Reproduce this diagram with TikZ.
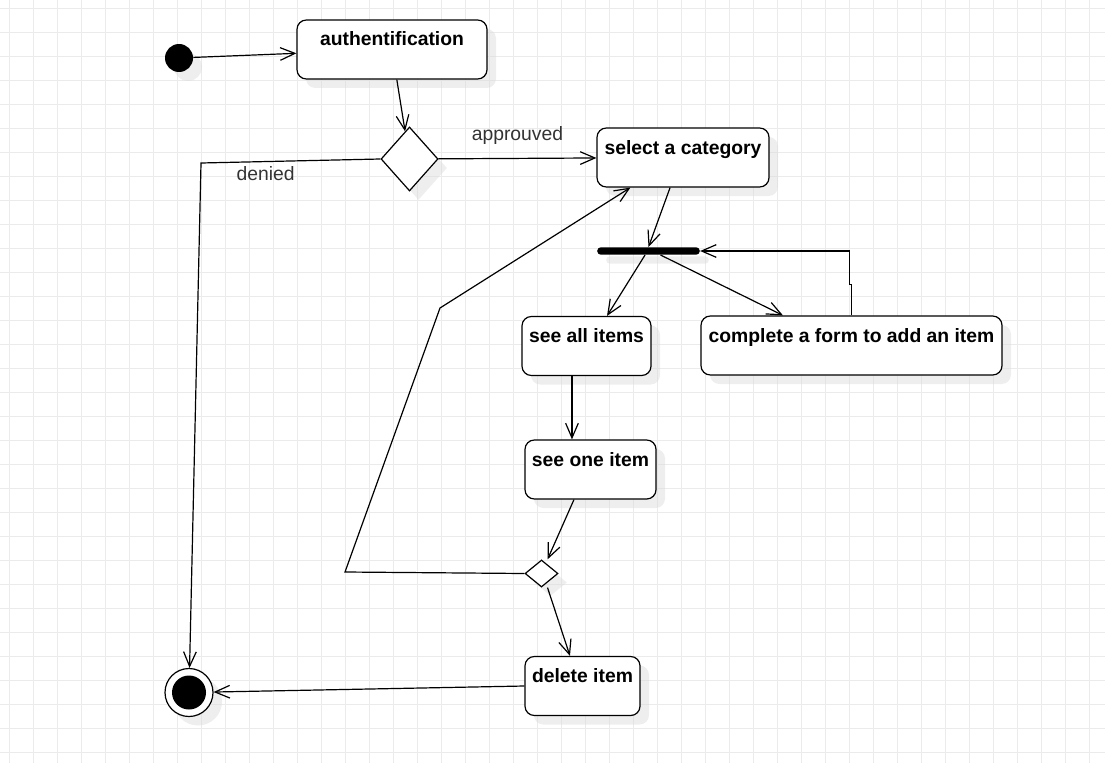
\documentclass[tikz,border=0pt]{standalone}
\usepackage{fontspec}
\setmainfont{Liberation Sans}
\usepackage{tikz}
\usetikzlibrary{shapes.geometric,arrows.meta,shadows}

\begin{document}
\begin{tikzpicture}[x=0.75pt, y=-0.75pt,
			gridline/.style={draw=black!8, line width=0.6pt},
			shade/.style={drop shadow={shadow xshift=6.75pt, shadow yshift=-6.75pt, fill=black!14, opacity=0.45}},
			block/.style={
					rectangle,
					draw,
					fill=white,
					shade,
					line width=0.9pt,
					rounded corners=7pt,
					minimum height=44.25pt,
					inner xsep=2pt,
					inner ysep=0pt,
					text height=19.5pt, % text sits at the top
					text depth=24.75pt,
					font=\bfseries\fontsize{14.5}{17}\selectfont
				},
			initial/.style={circle, fill=black, minimum size=21pt, inner sep=0pt, shade},
			final/.style={circle, draw, fill=white, line width=0.9pt, minimum size=36pt, inner sep=0pt, shade,
					path picture={\fill[black] (path picture bounding box.center) circle (12.75pt);}},
			decision/.style={diamond, draw, fill=white, line width=0.9pt, inner sep=0pt, shade},
			forkbar/.style={rectangle, fill=black, rounded corners=2.8pt, minimum width=77pt, minimum height=5.6pt, inner sep=0pt, shade},
			guard/.style={font=\fontsize{14.5}{17}\selectfont, text=black!80, inner sep=1pt},
			line/.style={draw, line width=0.9pt, -{Straight Barb[length=11pt, width=9.5pt]}}
		]
		% Background and grid
		\fill[white] (0,0) rectangle (1105,763);
		\useasboundingbox (0,0) rectangle (1105,763);
		\foreach \gx in {9,33,...,1105} \draw[gridline] (\gx,0) -- (\gx,763);
		\foreach \gy in {8,32,...,763} \draw[gridline] (0,\gy) -- (1105,\gy);
		% Place nodes
		\node [initial] (start) at (179,58) {};
		\node [block, minimum width=142.5pt] (auth) at (392,49.5) {authentification};
		\node [decision, minimum width=42.75pt, minimum height=48pt] (dec1) at (409.5,159) {};
		\node [block, minimum width=129pt] (select) at (683,157.5) {select a category};
		\node [forkbar] (bar) at (648.5,251) {};
		\node [block, minimum width=96.75pt] (seeall) at (586.5,346) {see all items};
		\node [block, minimum width=225.75pt] (form) at (851.5,345.5) {complete a form to add an item};
		\node [block, minimum width=98.25pt] (seeone) at (590.5,469.5) {see one item};
		\node [decision, minimum width=24.75pt, minimum height=20.25pt] (dec2) at (541.5,573.5) {};
		\node [block, minimum width=86.25pt] (delete) at (582.5,686) {delete item};
		\node [final] (end) at (189,692.5) {};
		\coordinate (deniedbend) at (201,163);
		\coordinate (loopa) at (345,572);
		\coordinate (loopb) at (440,308);
		% Draw edges
		\path [line] (start) -- (auth);
		\path [line] (auth) -- (dec1);
		\path [line] (dec1) -- node [guard, above=9pt] (lapprouved) {approuved} (select);
		\path [line] (dec1.west) -- node [guard, pos=0.64, below=2.5pt] (ldenied) {denied} (deniedbend) -- (end);
		\path [line] ([xshift=-9.7pt]select.south) -- (bar.north);
		\path [line] ([xshift=-2.6pt]bar.south) -- ([xshift=15.4pt]seeall.north);
		\path [line] ([xshift=9pt]bar.south) -- ([xshift=-51.4pt]form.north);
		\path [line] (form.north) -- ++(0,-31) -- ++(-2,0) |- (bar.east);
		\path [line] ([xshift=-10.9pt]seeall.south) -- ([xshift=-13.9pt]seeone.north);
		\path [line] ([xshift=-12.4pt]seeone.south) -- ([xshift=4.5pt]dec2.north);
		\path [line] ([xshift=4.5pt]dec2.south) -- ([xshift=-9.4pt]delete.north);
		\path [line] (dec2.west) -- (loopa) -- (loopb) -- ([xshift=25.5pt]select.south west);
		\path [line] (delete.west) -- (end);
	\end{tikzpicture}
\end{document}
